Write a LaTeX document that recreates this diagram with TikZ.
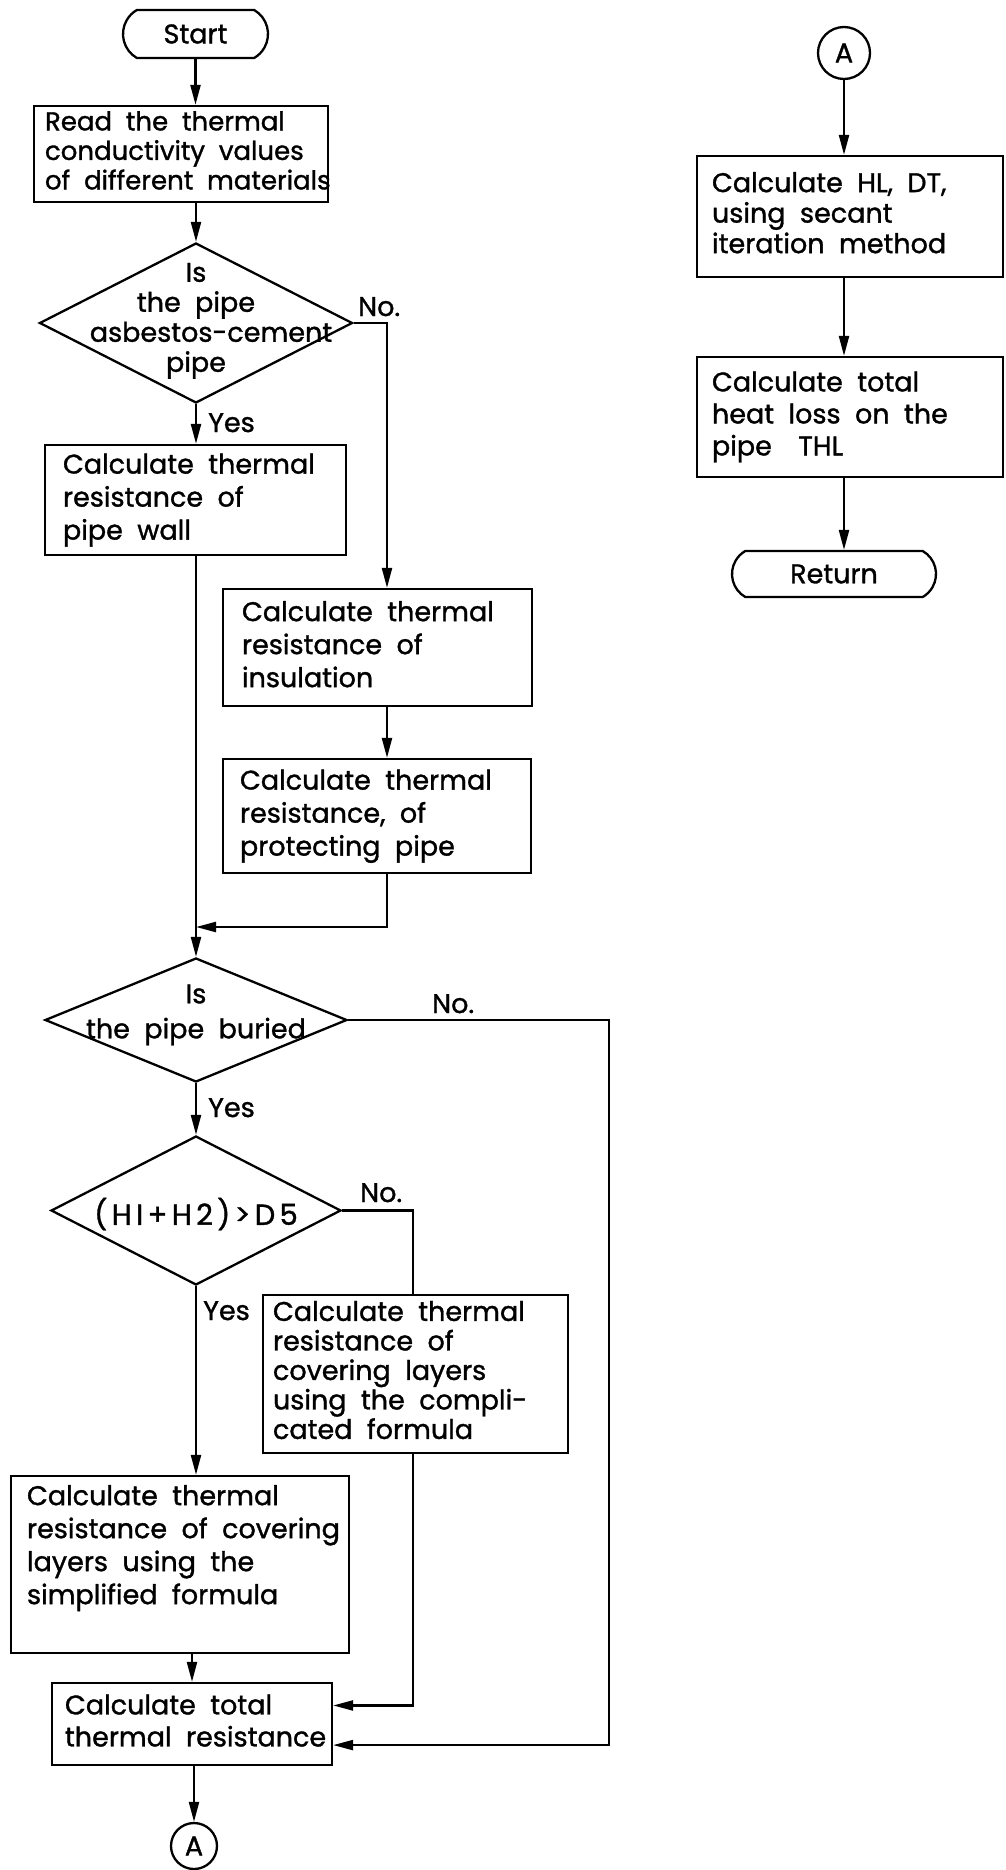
\documentclass[tikz,border=0pt]{standalone}
\usepackage{fontspec}
\setmainfont{Poppins}[WordSpace=2.0, FakeBold=1.2]
\usetikzlibrary{arrows.meta,shapes.geometric,shapes.misc,calc}
\newcommand{\dtext}[2]{\makebox[0pt]{\raisebox{#1}[0pt][0pt]{\begin{tabular}{@{}c@{}}#2\end{tabular}}}}
\newcommand{\btext}[2]{\makebox[#1][l]{\begin{tabular}{@{}l@{}}#2\end{tabular}}}
\begin{document}
\begin{tikzpicture}[x=1pt,y=-1pt,
  every node/.style={font=\fontsize{27}{33}\selectfont},
  box/.style={draw, line width=2.3pt, rectangle, inner sep=0pt},
  term/.style={draw, line width=2.3pt, rounded rectangle, rounded rectangle arc length=120, inner sep=0pt},
  dia/.style={draw, line width=2.3pt, diamond, inner sep=0pt},
  conn/.style={draw, line width=2.3pt, circle, inner sep=0pt},
  arr/.style={line width=2.3pt, -{Triangle[length=20pt,width=10pt]}},
  ln/.style={line width=2.3pt},
  lbl/.style={inner sep=0pt}]
\fill[white] (0,0) rectangle (1005,1870);
\useasboundingbox (0,0) rectangle (1005,1870);

% left column
\node[term, minimum width=145pt, minimum height=48pt] (start) at (195.5,34) {Start};
\node[box, minimum width=294pt, minimum height=96pt, font=\fontsize{26}{29.5}\selectfont] (read) at (181,154) {\btext{272pt}{Read the thermal\\conductivity values\\of different materials}};
\node[dia, minimum width=313pt, minimum height=160pt, font=\fontsize{27}{30}\selectfont] (d1) at (196,323) {\dtext{-4pt}{Is\\the pipe\\\hspace*{30pt}asbestos-cement\\pipe}};
\node[box, minimum width=301pt, minimum height=110pt] (wall) at (195.5,500) {\btext{265pt}{Calculate thermal\\resistance of\\pipe wall}};
\node[box, minimum width=309pt, minimum height=117pt] (ins) at (377.5,647.5) {\btext{271pt}{Calculate thermal\\resistance of\\insulation}};
\node[box, minimum width=308pt, minimum height=114pt] (prot) at (377,816) {\btext{274pt}{Calculate thermal\\resistance, of\\protecting pipe}};
\node[dia, minimum width=302pt, minimum height=124pt, font=\fontsize{27}{35}\selectfont] (d2) at (196,1020) {\dtext{0pt}{Is\\the pipe buried}};
\node[dia, minimum width=290pt, minimum height=149pt, font=\fontsize{29}{33}\selectfont] (d3) at (196,1210.5) {\dtext{-12pt}{\addfontfeatures{LetterSpace=15}(HI+H2)>D5}};
\node[box, minimum width=305pt, minimum height=158pt, font=\fontsize{27}{29.5}\selectfont] (comp) at (415.5,1374) {\btext{285pt}{Calculate thermal\\resistance of\\covering layers\\using the compli-\\cated formula}};
\node[box, minimum width=338pt, minimum height=177pt] (simp) at (180,1564.5) {\btext{306pt}{Calculate thermal\\resistance of covering\\layers using the\\simplified formula\\ \mbox{}}};
\node[box, minimum width=280pt, minimum height=82pt, font=\fontsize{27}{32}\selectfont] (total) at (192,1724) {\btext{254pt}{Calculate total\\thermal resistance}};
\node[conn, minimum size=46pt] (A1) at (194,1846) {A};

% right column
\node[conn, minimum size=52pt] (A2) at (844,53) {A};
\node[box, minimum width=306pt, minimum height=121pt, font=\fontsize{27}{30.5}\selectfont] (HL) at (850,216.5) {\btext{276pt}{Calculate HL, DT,\\using secant\\iteration method}};
\node[box, minimum width=306pt, minimum height=120pt, font=\fontsize{27}{32}\selectfont] (THL) at (850,417) {\btext{276pt}{Calculate total\\heat loss on the\\pipe\hspace{12pt} THL}};
\node[term, minimum width=204pt, minimum height=46pt] (ret) at (834,574) {Return};

% labels
\node[lbl, anchor=base west] (no1) at (358,316) {No.};
\node[lbl, anchor=base west] (yes1) at (208,432) {Yes};
\node[lbl, anchor=base west] (no2) at (432,1013) {No.};
\node[lbl, anchor=base west] (yes2) at (208,1117) {Yes};
\node[lbl, anchor=base west] (no3) at (360,1202) {No.};
\node[lbl, anchor=base west] (yes3) at (203,1320) {Yes};

% helper coordinates
\coordinate (j1) at (387,323);
\coordinate (m1) at (196,927);
\coordinate (j2) at (609,1020);
\coordinate (j3) at (413,1210.5);
\coordinate (t1) at ($(total.north east)!0.28!(total.south east)$);
\coordinate (t2) at ($(total.north east)!0.75!(total.south east)$);

% connectors
\draw[arr] (start.south) -- (start.south |- read.north);
\draw[arr] (read.south -| d1.north) -- (d1.north);
\draw[arr] (d1.south) -- (d1.south |- wall.north);
\draw[arr] (d1.east) -- (j1) -- (j1 |- ins.north);
\draw[arr] (j1 |- ins.south) -- (j1 |- prot.north);
\draw[arr] (j1 |- prot.south) -- (j1 |- m1) -- (m1);
\draw[arr] (wall.south -| d2.north) -- (d2.north);
\draw[arr] (d2.east) -- (j2) -- (j2 |- t2) -- (t2);
\draw[arr] (d2.south) -- (d3.north);
\draw[ln] (d3.east) -- (j3) -- (j3 |- comp.north);
\draw[arr] (j3 |- comp.south) -- (j3 |- t1) -- (t1);
\draw[arr] (d3.south) -- (d3.south |- simp.north);
\draw[arr] (total.north |- simp.south) -- (total.north);
\draw[arr] (total.south -| A1.north) -- (A1.north);
\draw[arr] (A2.south) -- (A2.south |- HL.north);
\draw[arr] (A2 |- HL.south) -- (A2 |- THL.north);
\draw[arr] (A2 |- THL.south) -- (A2 |- ret.north);
\end{tikzpicture}
\end{document}
